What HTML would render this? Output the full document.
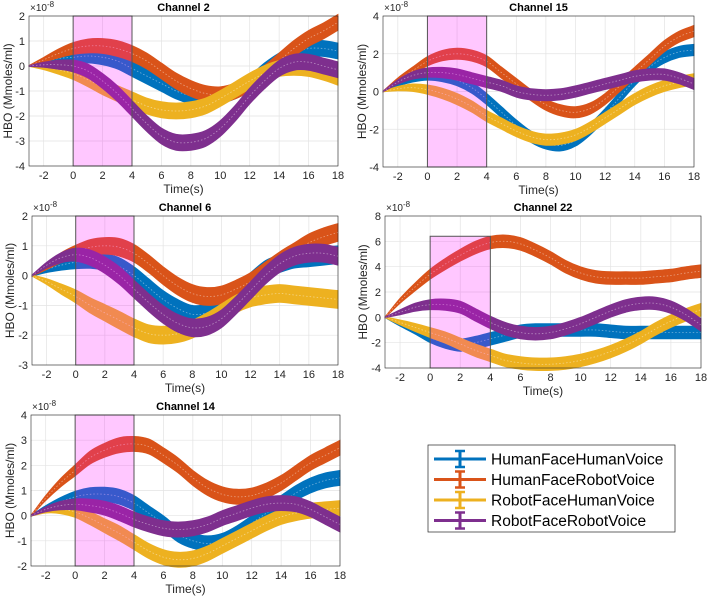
<!DOCTYPE html>
<html><head><meta charset="utf-8"><style>
body{margin:0;background:#fff;}
svg{display:block;font-family:"Liberation Sans",sans-serif;}
</style></head><body>
<svg id="fig" width="708" height="599" viewBox="0 0 708 599"></svg>
<script>
const times=[-3,-2,-1,0,1,2,3,4,5,6,7,8,9,10,11,12,13,14,15,16,17,18];
const seriesNames=["HumanFaceHumanVoice","HumanFaceRobotVoice","RobotFaceHumanVoice","RobotFaceRobotVoice"];
const colors=["#0072BD","#D95319","#EDB120","#7E2F8E"];
// Channel 2
const ch2_hfhv=[0,0.15,0.3,0.35,0.4,0.35,0.2,-0.1,-0.4,-0.7,-1.0,-1.2,-1.3,-1.2,-1.0,-0.7,-0.2,0.2,0.5,0.7,0.7,0.6];
const ch2_hfrv=[0,0.25,0.5,0.7,0.8,0.8,0.7,0.5,0.2,-0.2,-0.6,-0.9,-1.1,-1.15,-1.0,-0.7,-0.3,0.2,0.7,1.1,1.4,1.75];
const ch2_rfhv=[0,-0.05,-0.15,-0.3,-0.55,-0.85,-1.1,-1.35,-1.6,-1.75,-1.8,-1.75,-1.6,-1.3,-0.95,-0.6,-0.3,-0.1,-0.05,-0.1,-0.25,-0.45];
const ch2_rfrv=[0,0.05,0.05,0,-0.2,-0.6,-1.1,-1.7,-2.3,-2.8,-3.05,-3.05,-2.9,-2.5,-1.9,-1.2,-0.6,-0.1,0.15,0.15,0.0,-0.15];
const ch2_err=[0.02,0.1,0.18,0.24,0.28,0.3,0.32,0.32,0.32,0.32,0.32,0.32,0.32,0.32,0.32,0.32,0.32,0.32,0.32,0.32,0.32,0.32];
// Channel 15
const ch15_hfhv=[0,0.4,0.7,0.85,0.8,0.6,0.2,-0.4,-1.1,-1.8,-2.4,-2.75,-2.85,-2.6,-2.0,-1.2,-0.3,0.6,1.3,1.8,2.1,2.2];
const ch15_hfrv=[0,0.6,1.1,1.6,1.9,2.0,1.9,1.6,1.0,0.4,-0.2,-0.7,-1.0,-1.1,-0.9,-0.4,0.3,1.0,1.7,2.4,2.9,3.2];
const ch15_rfhv=[0,0.15,0.2,0.1,-0.1,-0.4,-0.8,-1.3,-1.7,-2.1,-2.4,-2.55,-2.5,-2.3,-1.9,-1.4,-0.9,-0.4,0.0,0.3,0.5,0.65];
const ch15_rfrv=[0,0.5,0.85,1.0,1.0,0.9,0.7,0.5,0.3,0.0,-0.15,-0.2,-0.15,0.0,0.2,0.4,0.6,0.8,0.9,0.9,0.7,0.4];
const ch15_err=[0.02,0.12,0.2,0.25,0.28,0.3,0.3,0.3,0.3,0.3,0.3,0.3,0.3,0.3,0.3,0.3,0.3,0.3,0.3,0.3,0.3,0.3];
// Channel 6
const ch6_hfhv=[0,0.2,0.35,0.45,0.5,0.45,0.3,0.0,-0.4,-0.8,-1.1,-1.3,-1.25,-1.0,-0.6,-0.2,0.2,0.4,0.55,0.6,0.65,0.7];
const ch6_hfrv=[0,0.3,0.6,0.8,0.95,1.0,0.95,0.75,0.4,0.0,-0.35,-0.6,-0.7,-0.65,-0.45,-0.2,0.15,0.5,0.8,1.1,1.3,1.45];
const ch6_rfhv=[0,-0.2,-0.45,-0.7,-1.0,-1.25,-1.5,-1.75,-1.95,-2.0,-1.95,-1.8,-1.55,-1.25,-0.95,-0.75,-0.65,-0.6,-0.65,-0.7,-0.75,-0.8];
const ch6_rfrv=[0,0.35,0.6,0.7,0.6,0.35,0.0,-0.45,-0.9,-1.3,-1.6,-1.75,-1.7,-1.45,-1.0,-0.5,0.0,0.4,0.65,0.75,0.75,0.65];
const ch6_err=[0.02,0.1,0.17,0.22,0.26,0.28,0.3,0.3,0.3,0.3,0.3,0.3,0.3,0.3,0.3,0.3,0.3,0.3,0.3,0.3,0.3,0.3];
// Channel 22
const ch22_hfhv=[0,-0.5,-1.0,-1.6,-2.0,-2.2,-2.0,-1.7,-1.4,-1.1,-1.0,-1.0,-1.0,-1.0,-1.0,-1.1,-1.2,-1.2,-1.2,-1.2,-1.2,-1.2];
const ch22_hfrv=[0,1.3,2.4,3.4,4.2,4.9,5.5,5.9,6.0,5.8,5.3,4.7,4.0,3.5,3.2,3.1,3.1,3.1,3.2,3.3,3.5,3.65];
const ch22_rfhv=[0,-0.4,-0.8,-1.2,-1.6,-2.1,-2.6,-3.0,-3.4,-3.6,-3.7,-3.7,-3.6,-3.4,-3.1,-2.7,-2.2,-1.6,-0.9,-0.3,0.2,0.6];
const ch22_rfrv=[0,0.4,0.8,1.0,1.0,0.8,0.2,-0.4,-0.9,-1.2,-1.3,-1.2,-0.9,-0.5,0.0,0.5,0.9,1.1,1.1,0.8,0.2,-0.6];
const ch22_err=[0.03,0.2,0.32,0.4,0.45,0.48,0.5,0.5,0.5,0.5,0.5,0.5,0.5,0.5,0.5,0.5,0.5,0.5,0.5,0.5,0.5,0.5];
// Channel 14
const ch14_hfhv=[0,0.3,0.55,0.75,0.85,0.85,0.75,0.5,0.1,-0.3,-0.75,-1.0,-1.1,-1.0,-0.7,-0.3,0.1,0.5,0.9,1.2,1.4,1.5];
const ch14_hfrv=[0,0.7,1.3,1.8,2.3,2.6,2.8,2.85,2.75,2.4,2.0,1.5,1.1,0.85,0.75,0.8,1.0,1.3,1.7,2.1,2.4,2.7];
const ch14_rfhv=[0,0.2,0.25,0.15,-0.1,-0.4,-0.7,-1.05,-1.4,-1.65,-1.75,-1.7,-1.5,-1.2,-0.9,-0.6,-0.3,-0.05,0.1,0.2,0.25,0.3];
const ch14_rfrv=[0,0.25,0.4,0.45,0.4,0.3,0.1,-0.15,-0.35,-0.5,-0.55,-0.5,-0.35,-0.1,0.1,0.3,0.45,0.5,0.45,0.25,-0.05,-0.35];
const ch14_err=[0.02,0.1,0.17,0.22,0.26,0.28,0.3,0.3,0.3,0.3,0.3,0.3,0.3,0.3,0.3,0.3,0.3,0.3,0.3,0.3,0.3,0.3];
const xTicks=[-2,0,2,4,6,8,10,12,14,16,18];

const panels=[
 {name:"Channel 2",key:"channel-2",x0:29,x1:338,y0:16,y1:166,ymin:-4,ymax:2,ystep:1,s:[ch2_hfhv,ch2_hfrv,ch2_rfhv,ch2_rfrv],err:ch2_err,ylab:8,ptop:null},
 {name:"Channel 15",key:"channel-15",x0:383,x1:694,y0:16,y1:167,ymin:-4,ymax:4,ystep:2,s:[ch15_hfhv,ch15_hfrv,ch15_rfhv,ch15_rfrv],err:ch15_err,ylab:362,ptop:null},
 {name:"Channel 6",key:"channel-6",x0:32,x1:338,y0:216,y1:365,ymin:-3,ymax:2,ystep:1,s:[ch6_hfhv,ch6_hfrv,ch6_rfhv,ch6_rfrv],err:ch6_err,ylab:10,ptop:null},
 {name:"Channel 22",key:"channel-22",x0:385,x1:701,y0:216,y1:368,ymin:-4,ymax:8,ystep:2,s:[ch22_hfhv,ch22_hfrv,ch22_rfhv,ch22_rfrv],err:ch22_err,ylab:363,ptop:6.4},
 {name:"Channel 14",key:"channel-14",x0:31,x1:340,y0:415,y1:566,ymin:-2,ymax:4,ystep:1,s:[ch14_hfhv,ch14_hfrv,ch14_rfhv,ch14_rfrv],err:ch14_err,ylab:10,ptop:null}
];
const NS="http://www.w3.org/2000/svg";
const fig=document.getElementById("fig");
function mk(tag,attrs,parent){const e=document.createElementNS(NS,tag);for(const k in attrs)e.setAttribute(k,attrs[k]);parent.appendChild(e);return e;}
function smooth(pts){let d="";for(let i=0;i<pts.length-1;i++){const p0=pts[Math.max(0,i-1)],p1=pts[i],p2=pts[i+1],p3=pts[Math.min(pts.length-1,i+2)];const c1=[p1[0]+(p2[0]-p0[0])/6,p1[1]+(p2[1]-p0[1])/6],c2=[p2[0]-(p3[0]-p1[0])/6,p2[1]-(p3[1]-p1[1])/6];d+=" C"+c1[0].toFixed(1)+","+c1[1].toFixed(1)+" "+c2[0].toFixed(1)+","+c2[1].toFixed(1)+" "+p2[0].toFixed(1)+","+p2[1].toFixed(1);}return d;}
panels.forEach(p=>{
 const g=mk("g",{},fig);
 
 
 const sx=t=>p.x0+(t+3)/21*(p.x1-p.x0);
 const sy=v=>p.y1-(v-p.ymin)/(p.ymax-p.ymin)*(p.y1-p.y0);
 mk("rect",{x:p.x0,y:p.y0,width:p.x1-p.x0,height:p.y1-p.y0,fill:"#fff"},g);
 xTicks.forEach(t=>{const l=mk("line",{x1:sx(t),x2:sx(t),y1:p.y0,y2:p.y1,stroke:"#e3e3e3","stroke-width":0.7},g);});
 for(let v=p.ymin;v<=p.ymax+1e-9;v+=p.ystep){const l=mk("line",{x1:p.x0,x2:p.x1,y1:sy(v),y2:sy(v),stroke:"#e3e3e3","stroke-width":0.7},g);
  const tx=mk("text",{x:p.x0-4,y:sy(v)+4,"text-anchor":"end","font-size":11,fill:"#262626"},g);tx.textContent=v;}
 xTicks.forEach(t=>{const tx=mk("text",{x:sx(t),y:p.y1+13,"text-anchor":"middle","font-size":11,fill:"#262626"},g);tx.textContent=t;});
 p.s.forEach((arr,si)=>{
  const up=times.map((t,i)=>[sx(t),sy(arr[i]+p.err[i])]);
  const lo=times.map((t,i)=>[sx(t),sy(arr[i]-p.err[i])]).reverse();
  const d="M"+up[0][0]+","+up[0][1]+smooth(up)+" L"+lo[0][0]+","+lo[0][1]+smooth(lo)+" Z";
  const band=mk("path",{d:d,fill:colors[si],stroke:colors[si],"stroke-width":0.8},g);
  
  
  const mid=times.map((t,i)=>[sx(t),sy(arr[i])]);
  const ml=mk("path",{d:"M"+mid[0][0]+","+mid[0][1]+smooth(mid),fill:"none",stroke:"#fff","stroke-opacity":0.45,"stroke-width":0.8,"stroke-dasharray":"1.5 2"},g);
  
  
 });
 const pt=p.ptop===null?p.y0:sy(p.ptop);
 const patch=mk("rect",{x:sx(0),y:pt,width:sx(4)-sx(0),height:p.y1-pt,fill:"#ff00ff","fill-opacity":0.22,stroke:"#555","stroke-width":1},g);
 
 
 const box=mk("rect",{x:p.x0,y:p.y0,width:p.x1-p.x0,height:p.y1-p.y0,fill:"none",stroke:"#262626","stroke-width":0.6},g);
 
 
 const ttl=mk("text",{x:(p.x0+p.x1)/2,y:p.y0-5,"text-anchor":"middle","font-size":11,"font-weight":"bold",fill:"#000"},g);ttl.textContent=p.name;
 
 const ex=mk("text",{x:p.x0+1,y:p.y0-5,"font-size":10,fill:"#262626"},g);ex.innerHTML='×10<tspan dy="-4" font-size="8">-8</tspan>';
 
 const xl=mk("text",{x:(p.x0+p.x1)/2,y:p.y1+27,"text-anchor":"middle","font-size":12,fill:"#262626"},g);xl.textContent="Time(s)";
 
 const yc=(p.y0+p.y1)/2;
 const yl=mk("text",{x:p.ylab,y:yc,"text-anchor":"middle","font-size":12,fill:"#262626",transform:"rotate(-90 "+p.ylab+" "+yc+")","dominant-baseline":"central"},g);yl.textContent="HBO (Mmoles/ml)";
 
});
const lg=mk("g",{},fig);


mk("rect",{x:428,y:445,width:247,height:87,fill:"#fff",stroke:"#262626","stroke-width":0.7},lg);
seriesNames.forEach((n,i)=>{
 const y=459+i*20.5;
 const e=mk("g",{},lg);
 
 
 mk("line",{x1:434,x2:486,y1:y,y2:y,stroke:colors[i],"stroke-width":3},e);
 mk("line",{x1:460,x2:460,y1:y-8,y2:y+8,stroke:colors[i],"stroke-width":3},e);
 mk("line",{x1:455,x2:465,y1:y-8,y2:y-8,stroke:colors[i],"stroke-width":2.5},e);
 mk("line",{x1:455,x2:465,y1:y+8,y2:y+8,stroke:colors[i],"stroke-width":2.5},e);
 const t=mk("text",{x:491,y:y+5.5,"font-size":15.5,fill:"#000"},e);t.textContent=n;
});
</script>
</body></html>
